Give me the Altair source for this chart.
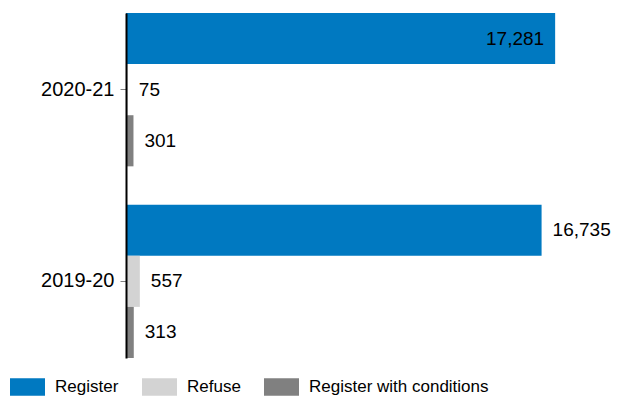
import altair as alt
import pandas as pd

years = ["2020-21", "2019-20"]
series = ["Register", "Refuse", "Register with conditions"]
register = [17281, 16735]
refuse = [75, 557]
conditions = [301, 313]
colors = ["#0079C1", "#D3D3D3", "#808080"]

rows = []
for i, y in enumerate(years):
    for s, vals in zip(series, [register, refuse, conditions]):
        rows.append({"year": y, "series": s, "value": vals[i]})
df = pd.DataFrame(rows)

FONT = "Liberation Sans"

y_enc = alt.Y("year:N", sort=years, title=None,
              scale=alt.Scale(paddingInner=0.2, paddingOuter=0),
              axis=alt.Axis(domainColor="black", domainWidth=2, tickColor="#808080",
                            tickSize=6, labelPadding=6, labelFontSize=20, zindex=1,
                            labelColor="black", labelFont=FONT, grid=False))
yoff = alt.YOffset("series:N", sort=series, scale=alt.Scale(paddingInner=0, paddingOuter=0))
x_enc = alt.X("value:Q", scale=alt.Scale(domain=[0, 18000]), axis=None)

base = alt.Chart(df)

bars = base.mark_bar().encode(
    x=x_enc, y=y_enc, yOffset=yoff,
    color=alt.Color("series:N", sort=series,
                    scale=alt.Scale(domain=series, range=colors),
                    legend=alt.Legend(title=None, orient="none", direction="horizontal",
                                      legendX=-116, legendY=356,
                                      symbolType="M-1,-0.5H1V0.5H-1Z", symbolSize=1225,
                                      symbolStrokeWidth=0, symbolOpacity=1,
                                      labelFontSize=17, labelFont=FONT, labelColor="black",
                                      labelLimit=400, labelOffset=10, columnPadding=23)),
)

outside = base.transform_filter("datum.value < 17000").mark_text(
    align="left", baseline="middle", dx=11, fontSize=19, font=FONT, color="black"
).encode(x=x_enc, y=y_enc, yOffset=yoff, text=alt.Text("value:Q", format=","))

inside = base.transform_filter("datum.value >= 17000").mark_text(
    align="right", baseline="middle", dx=-11, fontSize=19, font=FONT, color="black"
).encode(x=x_enc, y=y_enc, yOffset=yoff, text=alt.Text("value:Q", format=","))

chart = alt.layer(bars, outside, inside).properties(
    width=447, height=345,
    padding={"left": 118, "top": 5, "right": 38, "bottom": 39},
    autosize=alt.AutoSizeParams(type="none"),
).configure_view(stroke=None)

chart.save("out.html", embed_options={"renderer": "svg", "actions": False})
